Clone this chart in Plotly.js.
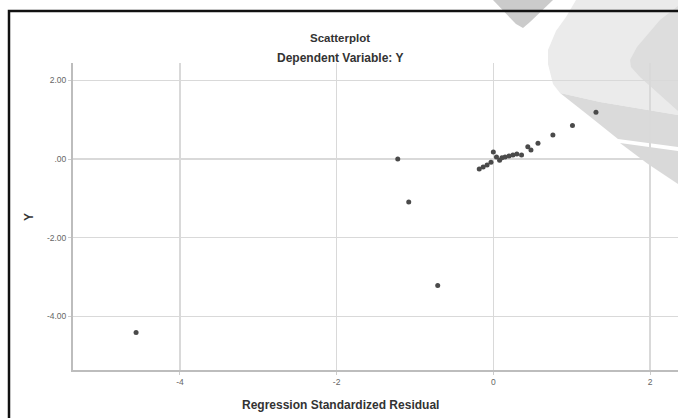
<!DOCTYPE html>
<html>
<head>
<meta charset="utf-8">
<script src="https://cdn.plot.ly/plotly-3.0.1.min.js"></script>
<style>html,body{margin:0;padding:0;background:#fff;}#chart{width:678px;height:418px;}</style>
</head>
<body>
<div id="chart"></div>
<script>
// Data
var residual = [-4.56, -1.22, -1.08, -0.71, -0.18, -0.13, -0.08, -0.03, 0.00, 0.04, 0.08, 0.11, 0.15, 0.20, 0.25, 0.30, 0.36, 0.44, 0.48, 0.57, 0.76, 1.01, 1.31];
var yValues  = [-4.41,  0.00, -1.09, -3.21, -0.25, -0.20, -0.15, -0.08, 0.18, 0.05, -0.03, 0.03, 0.05, 0.08, 0.10, 0.13, 0.10, 0.31, 0.23, 0.40, 0.61, 0.85, 1.19];
var xTickVals = [-4, -2, 0, 2];
var xTickText = ["-4", "-2", "0", "2"];
var yTickVals = [2, 0, -2, -4];
var yTickText = ["2.00", ".00", "-2.00", "-4.00"];

// layout geometry (pixels)
var L = 73, R = 678, T = 63, B = 370;
function px(x){ return (x - L) / (R - L); }
function py(y){ return (B - y) / (B - T); }
function path(pts){
  return pts.map(function(p,i){ return (i ? 'L' : 'M') + px(p[0]).toFixed(4) + ',' + py(p[1]).toFixed(4); }).join(' ') + ' Z';
}
function wm(pts, color){
  return {type:'path', xref:'paper', yref:'paper', path:path(pts), fillcolor:color, line:{width:0}, layer:'below'};
}

var shapes = [
  wm([[576,0],[678,0],[678,115],[600,102],[560,93],[553,84],[548,64],[548,50],[556,31],[566,17]], '#ebebeb'),
  wm([[493,0],[553,0],[530,22],[523,28],[516,24]], '#cbcbcb'),
  wm([[560,93],[600,102],[678,115],[678,147],[618,139],[588,115]], '#dadada'),
  wm([[620,143],[678,151],[678,184],[648,164]], '#d9d9d9'),
  wm([[678,6],[660,20],[637,47],[630,60],[631,67],[640,77],[678,111]], '#dddddd'),
  {type:'rect', xref:'paper', yref:'paper', x0:px(9), x1:px(720), y0:py(440), y1:py(11),
   line:{color:'#111', width:2.5}, fillcolor:'rgba(0,0,0,0)', layer:'above'}
];

var txt = '#333';
var annotations = [
  {text:'<b>Scatterplot</b>', x:px(340), y:py(38), xref:'paper', yref:'paper', showarrow:false, xanchor:'center', yanchor:'middle', font:{family:'Liberation Sans, Arial', size:11.5, color:txt}},
  {text:'<b>Dependent Variable: Y</b>', x:px(340), y:py(58), xref:'paper', yref:'paper', showarrow:false, xanchor:'center', yanchor:'middle', font:{family:'Liberation Sans, Arial', size:12, color:txt}},
  {text:'<b>Regression Standardized Residual</b>', x:px(340), y:py(405), xref:'paper', yref:'paper', showarrow:false, xanchor:'center', yanchor:'middle', font:{family:'Liberation Sans, Arial', size:12, color:txt}},
  {text:'<b>Y</b>', x:px(29), y:py(217), xref:'paper', yref:'paper', showarrow:false, xanchor:'center', yanchor:'middle', textangle:-90, font:{family:'Liberation Sans, Arial', size:12, color:txt}}
];

var trace = {
  x: residual, y: yValues, type:'scatter', mode:'markers',
  marker:{color:'#4a4a4a', size:5, line:{width:0}},
  hoverinfo:'none'
};

var layout = {
  width:678, height:418,
  margin:{l:L, r:678-R, t:T, b:418-B, pad:0},
  paper_bgcolor:'#ffffff', plot_bgcolor:'rgba(0,0,0,0)',
  showlegend:false,
  xaxis:{range:[-5.365, 2.357], tickvals:xTickVals, ticktext:xTickText, showgrid:true, gridcolor:'#d9d9d9', gridwidth:1.2,
         zeroline:false, showline:true, linecolor:'#bdbdbd', linewidth:2, ticks:'outside', ticklen:3, tickcolor:'#cccccc',
         tickfont:{family:'Liberation Sans, Arial', size:8.5, color:'#666'}, fixedrange:true},
  yaxis:{range:[-5.36, 2.44], tickvals:yTickVals, ticktext:yTickText, showgrid:true, gridcolor:'#d9d9d9', gridwidth:1.2,
         zeroline:false, showline:true, linecolor:'#bdbdbd', linewidth:2, ticks:'outside', ticklen:3, tickcolor:'#cccccc',
         tickfont:{family:'Liberation Sans, Arial', size:8.5, color:'#666'}, fixedrange:true},
  shapes:shapes,
  annotations:annotations
};

Plotly.newPlot('chart', [trace], layout, {displayModeBar:false, staticPlot:true});
</script>
</body>
</html>
